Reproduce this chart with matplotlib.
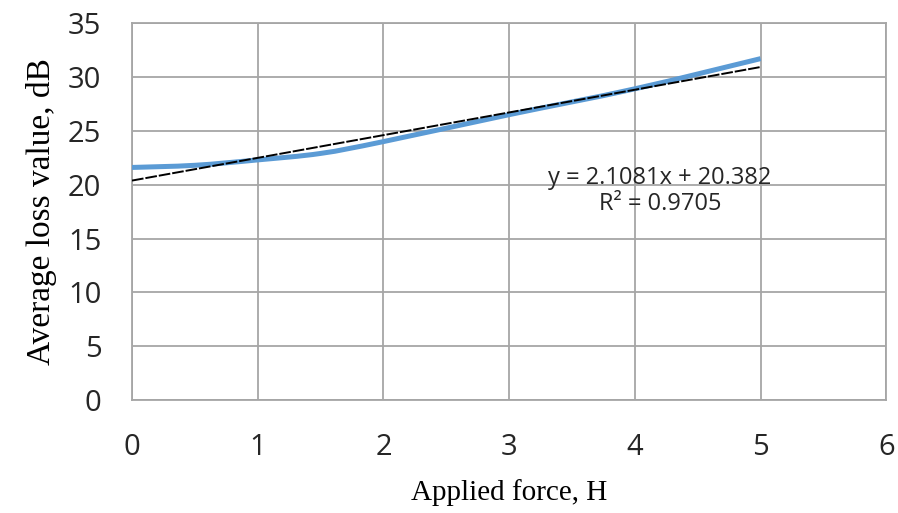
import numpy as np
import matplotlib
matplotlib.use("Agg")
import matplotlib.pyplot as plt
from matplotlib.path import Path
from matplotlib.patches import PathPatch

# measured loss vs applied force
force = [0, 0.5, 1, 1.5, 2, 3, 4, 5]
loss = [21.6, 21.8, 22.3, 22.9, 24.0, 26.5, 28.9, 31.7]

# linear trendline as printed on the chart
slope = 2.1081
intercept = 20.382
r_squared = 0.9705

x_ticks = [0, 1, 2, 3, 4, 5, 6]
y_ticks = [0, 5, 10, 15, 20, 25, 30, 35]


def smooth_path(xs, ys):
    # catmull-rom -> cubic bezier, like Excel's smoothed line
    xs = np.asarray(xs, float)
    ys = np.asarray(ys, float)
    pts = np.column_stack([xs, ys])
    verts = [pts[0]]
    codes = [Path.MOVETO]
    n = len(pts)
    for i in range(n - 1):
        p0 = pts[i - 1] if i > 0 else pts[i]
        p1 = pts[i]
        p2 = pts[i + 1]
        p3 = pts[i + 2] if i + 2 < n else pts[i + 1]
        c1 = p1 + (p2 - p0) / 6
        c2 = p2 - (p3 - p1) / 6
        verts += [c1, c2, p2]
        codes += [Path.CURVE4] * 3
    return Path(verts, codes)


fig = plt.figure(figsize=(8.98, 5.13), dpi=100)
ax = fig.add_axes([0.147, 0.22, 0.84, 0.735])

ax.set_xlim(0, 6)
ax.set_ylim(0, 35)
ax.set_xticks(x_ticks)
ax.set_yticks(y_ticks)
ax.grid(True, color="#a6a6a6", linewidth=1.3)
ax.set_axisbelow(True)
for s in ax.spines.values():
    s.set_color("#a6a6a6")
    s.set_linewidth(1.3)

ax.tick_params(length=0, labelsize=21, colors="#262626")
ax.tick_params(axis="x", pad=24)
ax.tick_params(axis="y", pad=22)
for lab in ax.get_xticklabels() + ax.get_yticklabels():
    lab.set_fontfamily("Open Sans")

patch = PathPatch(smooth_path(force, loss), facecolor="none", edgecolor="#5b9bd5",
                  linewidth=3.6, transform=ax.transData, zorder=3, capstyle="butt")
ax.add_patch(patch)

tx = np.array([force[0], force[-1]])
ax.plot(tx, slope * tx + intercept, color="black", linewidth=1.4,
        linestyle=(0, (6, 1)), zorder=4)

ax.text(4.2, 19.4, f"y = {slope}x + {intercept}\nR² = {r_squared}",
        ha="center", va="center", fontsize=17, fontfamily="Open Sans",
        color="#262626", linespacing=1.15)

ax.set_xlabel("Applied force, H", fontsize=21, fontfamily="Liberation Serif", labelpad=12)
ax.set_ylabel("Average loss value, dB", fontsize=24, fontfamily="Liberation Serif", labelpad=8)

fig.savefig("out.png", dpi=100)
